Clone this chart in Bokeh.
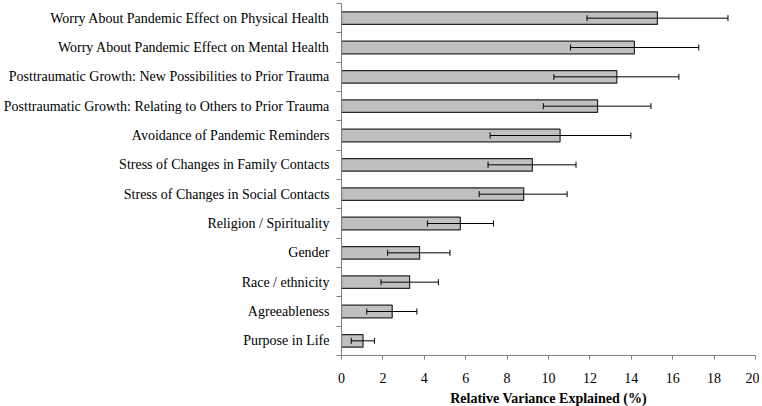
from bokeh.plotting import figure
from bokeh.models import ColumnDataSource, Whisker, TeeHead, FixedTicker, Range1d
from bokeh.embed import file_html
from bokeh.resources import INLINE

categories = [
    "Worry About Pandemic Effect on Physical Health",
    "Worry About Pandemic Effect on Mental Health",
    "Posttraumatic Growth: New Possibilities to Prior Trauma",
    "Posttraumatic Growth: Relating to Others to Prior Trauma",
    "Avoidance of Pandemic Reminders",
    "Stress of Changes in Family Contacts",
    "Stress of Changes in Social Contacts",
    "Religion / Spirituality",
    "Gender",
    "Race / ethnicity",
    "Agreeableness",
    "Purpose in Life",
]
values = [15.26, 14.15, 13.30, 12.37, 10.56, 9.22, 8.80, 5.74, 3.77, 3.29, 2.45, 1.04]
lower = [11.86, 11.06, 10.26, 9.75, 7.18, 7.08, 6.65, 4.15, 2.23, 1.91, 1.22, 0.47]
upper = [18.67, 17.26, 16.30, 14.95, 13.98, 11.33, 10.90, 7.34, 5.24, 4.68, 3.64, 1.59]
x_ticks = [0, 2, 4, 6, 8, 10, 12, 14, 16, 18, 20]
x_label = "Relative Variance Explained (%)"

n = len(categories)
ypos = [n - i - 0.5 for i in range(n)]
src = ColumnDataSource(dict(y=ypos, v=values, lo=lower, hi=upper, cat=categories))

p = figure(frame_width=414, frame_height=352, output_backend="svg", toolbar_location=None,
           x_range=Range1d(0, 20), y_range=Range1d(0, n),
           min_border_left=0, min_border_right=4, min_border_top=3, min_border_bottom=0)
p.outline_line_color = None
p.xgrid.visible = False
p.ygrid.visible = False

p.hbar(y="y", right="v", left=0, height=0.43, source=src,
       fill_color="#c0c0c0", line_color="#262626", line_width=1.2)

head_kw = dict(size=6, line_color="black", line_width=1)
w = Whisker(source=src, base="y", lower="lo", upper="hi", dimension="width",
            line_color="black", line_width=1, level="overlay",
            upper_head=TeeHead(**head_kw), lower_head=TeeHead(**head_kw))
p.add_layout(w)

font = "'Liberation Serif', 'Times New Roman', serif"

ya = p.yaxis[0]
ya.ticker = FixedTicker(ticks=ypos, minor_ticks=list(range(n + 1)))
ya.major_label_overrides = {y: c for y, c in zip(ypos, categories)}
ya.major_tick_line_color = None
ya.major_tick_in = 0
ya.major_tick_out = 0
ya.minor_tick_line_color = "#808080"
ya.minor_tick_in = 0
ya.minor_tick_out = 5
ya.axis_line_color = "#808080"
ya.major_label_text_font = font
ya.major_label_text_font_size = "14px"
ya.major_label_text_color = "black"
ya.major_label_standoff = 7

xa = p.xaxis[0]
xa.ticker = FixedTicker(ticks=x_ticks)
xa.minor_tick_line_color = None
xa.major_tick_in = 0
xa.major_tick_out = 4
xa.major_tick_line_color = "#808080"
xa.axis_line_color = "#808080"
xa.major_label_text_font = font
xa.major_label_text_font_size = "14px"
xa.major_label_text_color = "black"
xa.major_label_standoff = 13
xa.axis_label = x_label
xa.axis_label_text_font = font
xa.axis_label_text_font_style = "bold"
xa.axis_label_text_font_size = "14px"
xa.axis_label_text_color = "black"
xa.axis_label_standoff = 5

open("out.html", "w").write(file_html(p, INLINE))
